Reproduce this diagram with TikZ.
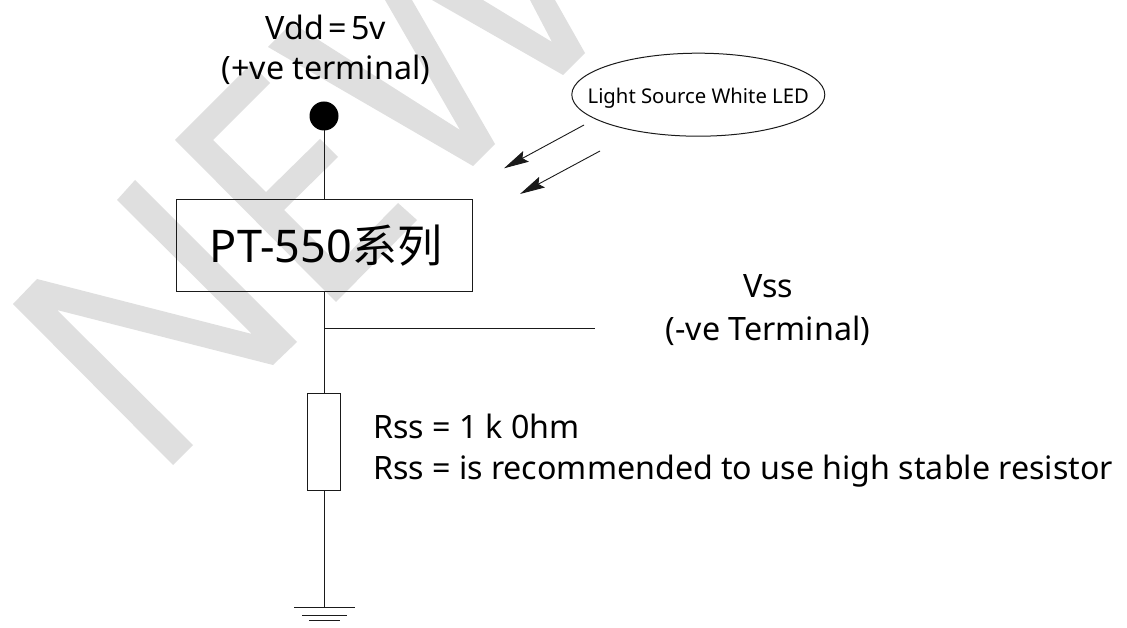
\documentclass[tikz,border=0pt]{standalone}
\usepackage{fontspec}
\setmainfont{Noto Sans}
\newfontfamily\cjk{Noto Sans CJK SC}
\usetikzlibrary{arrows.meta,shapes.geometric}
\definecolor{wmark}{HTML}{DFDFDF}
\definecolor{ink}{HTML}{1A1A1A}
\tikzset{
  wm/.style={fill=wmark,draw=none},
  wire/.style={draw=ink,line width=1pt},
  ray/.style={draw=ink,line width=0.9pt,-{Stealth[length=25pt,width=12pt,inset=4pt]}},
  part/.style={draw=ink,line width=1pt,inner sep=0pt,outer sep=0pt},
  lbl/.style={inner sep=0pt,outer sep=0pt,anchor=base,text=black,font=\fontsize{32.2}{36}\selectfont},
  lblw/.style={lbl,anchor=base west},
}
\begin{document}
\begin{tikzpicture}[x=1pt,y=-1pt]
\useasboundingbox (0,0) rectangle (1127,628);
% watermark
\fill[wm] (13,304)--(37,279)--(252,334)--(117,200)--(135,180)--(297,342)--(273,365)--(57,310)--(193,445)--(173,465)--cycle;
\fill[wm] (175,140)--(251,64)--(270,83)--(213,140)--(266,192)--(320,139)--(338,157)--(284,210)--(338,264)--(398,203)--(417,220)--(336,302)--cycle;
\fill[wm] (268,47)--(473,166)--(495,144)--(412,0)--(385,0)--(460,130)--(292,23)--cycle;
\fill[wm] (432,0)--(563,75)--(585,53)--(555,0)--(530,0)--(552,42)--(483,0)--cycle;
% parts
\node[circle,fill=black,minimum size=29pt,inner sep=0pt,outer sep=0pt] (dot) at (324,116) {};
\node[part,minimum width=296pt,minimum height=91.5pt,text height=33pt,text depth=0pt,font=\fontsize{45}{48}\selectfont] (chip) at (324,245.7) {\hspace*{4pt}PT-550{\cjk 系列}};
\node[part,minimum width=33pt,minimum height=97pt] (rss) at (324,442) {};
\node[part,ellipse,minimum width=253pt,minimum height=83pt,text height=18pt,text depth=0pt,font=\fontsize{20.3}{23}\selectfont] (led) at (698.3,94.7) {\makebox[0pt][c]{Light Source White LED}};
\coordinate (junction) at (324,328.7);
\coordinate (vssend) at (595,328.7);
\coordinate (gnd) at (324,607.7);
\coordinate (g1a) at (294,607.7); \coordinate (g1b) at (355,607.7);
\coordinate (g2a) at (302,615);   \coordinate (g2b) at (347,615);
\coordinate (g3a) at (309,620);   \coordinate (g3b) at (340,620);
\coordinate (r1a) at (584,125);   \coordinate (r1b) at (504,168.3);
\coordinate (r2a) at (600,151);   \coordinate (r2b) at (520,194);
% connectors
\draw[wire] (dot.south) -- (chip.north);
\draw[wire] (chip.south) -- (rss.north);
\draw[wire] (junction) -- (vssend);
\draw[wire] (rss.south) -- (gnd);
\draw[wire] (g1a) -- (g1b);
\draw[wire] (g2a) -- (g2b);
\draw[wire] (g3a) -- (g3b);
\draw[ray] (r1a) -- (r1b);
\draw[ray] (r2a) -- (r2b);
% labels
\node[lbl] (vdd) at (326,39.7) {Vdd\kern4.5pt=\kern4.5pt5v};
\node[lbl] (vddt) at (326,80) {(+ve terminal)};
\node[lbl] (vss) at (768,298) {Vss};
\node[lbl] (vsst) at (768,340) {(-ve Terminal)};
\node[lblw] (rss1) at (373,438) {Rss = 1 k 0hm};
\node[lblw] (rss2) at (373,479) {Rss = is recommended to use high stable resistor};
\end{tikzpicture}
\end{document}
